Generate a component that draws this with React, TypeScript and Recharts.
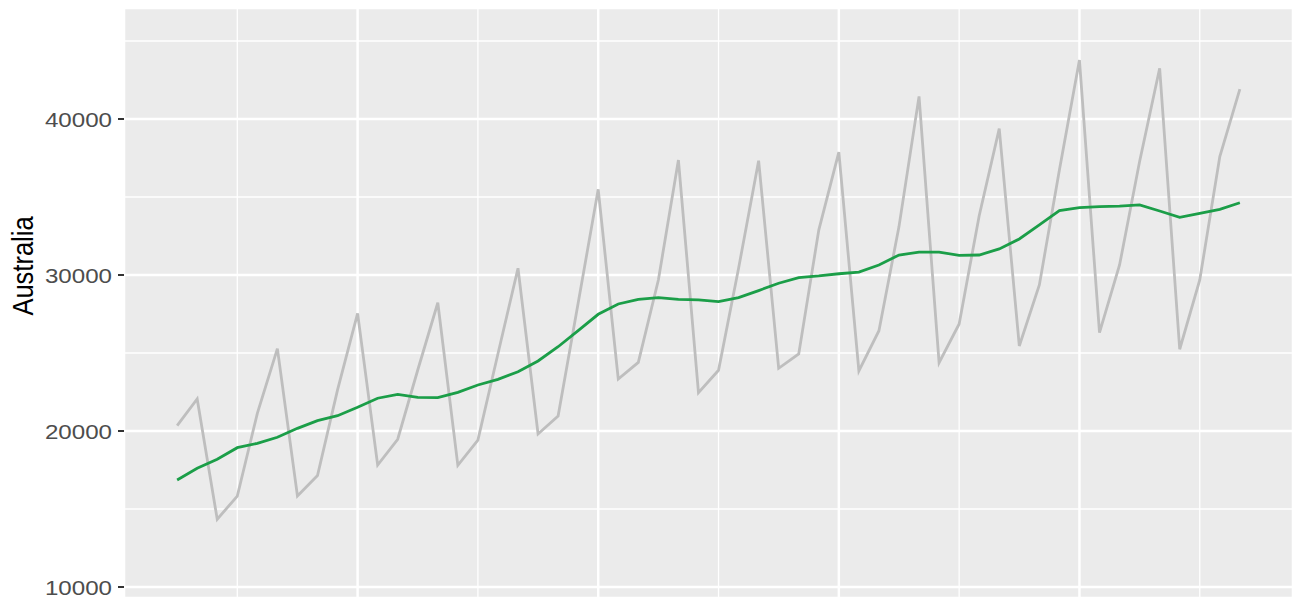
import { LineChart, Line, XAxis, YAxis, CartesianGrid } from "recharts";

// quarterly visitor nights, raw series and its trend
const RAW = [
  20340, 22050, 14340, 15830, 21130, 25280, 15830, 17140, 22630, 27540,
  17820, 19470, 23910, 28220, 17800, 19420, 24950, 30430, 19810, 20960,
  28200, 35490, 23330, 24400, 29680, 37370, 22460, 23890, 30430, 37330,
  24020, 24940, 32880, 37870, 23850, 26430, 33100, 41450, 24380, 26860,
  33800, 39380, 25450, 29360, 36730, 43780, 26300, 30640, 37270, 43250,
  25240, 29680, 37590, 41920,
];
const TREND = [
  16860, 17610, 18190, 18930, 19210, 19600, 20170, 20660, 20980, 21520,
  22100, 22350, 22160, 22140, 22480, 22950, 23310, 23800, 24490, 25400,
  26430, 27480, 28140, 28440, 28550, 28440, 28400, 28290, 28550, 29000,
  29470, 29830, 29940, 30080, 30190, 30640, 31280, 31470, 31470, 31260,
  31280, 31670, 32310, 33210, 34130, 34320, 34380, 34420, 34490, 34100,
  33700, 33950, 34210, 34630,
];
const Y_TICKS = [10000, 20000, 30000, 40000];
const Y_MINOR = [15000, 25000, 35000, 45000];
const X_MAJOR = [9, 21, 33, 45];
const X_MINOR = [3, 15, 27, 39, 51];

const X_DOMAIN = [-2.65, 55.65];
const Y_DOMAIN = [9294, 47115];

const FONT = "'Liberation Sans', Arial, Helvetica, sans-serif";

const data = RAW.map((v, i) => ({ i, raw: v, trend: TREND[i] }));

function YTick({ x, y, payload }: any) {
  return (
    <g transform={`translate(${x - 4},${y}) scale(1.15,1)`}>
      <text textAnchor="end" dy="0.36em" fontSize={21} fill="#4D4D4D" fontFamily={FONT}>
        {payload.value}
      </text>
    </g>
  );
}

function YTitle() {
  return (
    <g transform="translate(33,266) scale(1.17,1) rotate(-90)">
      <text textAnchor="middle" fontSize={25.5} fill="#000" fontFamily={FONT}>
        Australia
      </text>
    </g>
  );
}

export default function App() {
  return (
    <div style={{ position: "fixed", left: 0, top: 0, width: 1293, height: 598, overflow: "hidden", background: "#fff" }}>
      <LineChart width={1293} height={598} data={data} margin={{ top: 8, right: 0, bottom: 0, left: 0 }}>
        <XAxis dataKey="i" type="number" domain={X_DOMAIN} ticks={X_MAJOR} hide allowDataOverflow />
        <XAxis xAxisId="minor" dataKey="i" type="number" domain={X_DOMAIN} ticks={X_MINOR} hide allowDataOverflow />
        <YAxis yAxisId="minor" type="number" domain={Y_DOMAIN} ticks={Y_MINOR} hide allowDataOverflow />
        <YAxis
          type="number"
          domain={Y_DOMAIN}
          ticks={Y_TICKS}
          allowDataOverflow
          width={124}
          axisLine={false}
          tickSize={6}
          tickLine={{ stroke: "#333333", strokeWidth: 2 }}
          tick={<YTick />}
          label={{ content: () => <YTitle /> }}
        />
        <CartesianGrid xAxisId="minor" yAxisId="minor" stroke="#ffffff" strokeWidth={1.3} fill="#EBEBEB" />
        <CartesianGrid stroke="#ffffff" strokeWidth={2.5} />
        <Line dataKey="raw" stroke="#BEBEBE" strokeWidth={2.8} dot={false} isAnimationActive={false} />
        <Line dataKey="trend" stroke="#1B9E48" strokeWidth={2.8} dot={false} isAnimationActive={false} />
      </LineChart>
    </div>
  );
}
